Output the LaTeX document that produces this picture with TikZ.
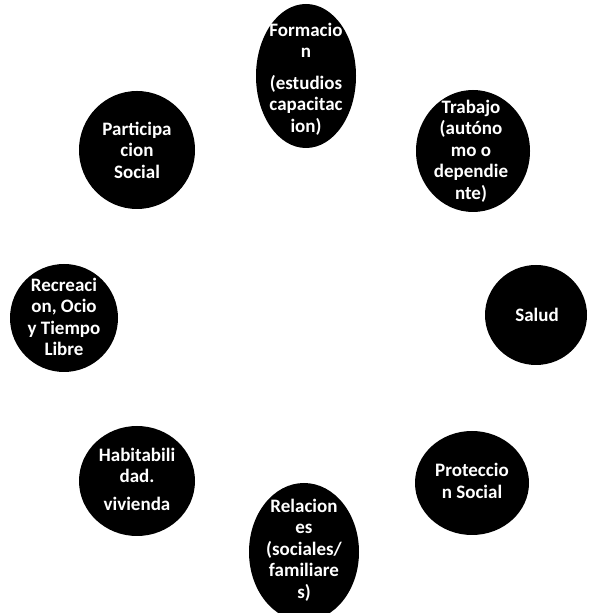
\documentclass[tikz,border=0pt]{standalone}
\usepackage{fontspec}
\setmainfont{Carlito}
\usetikzlibrary{shapes.geometric}
\tikzset{
  blob/.style={ellipse, fill=black, draw=none, inner sep=0pt},
  lbl/.style={text=white, font=\bfseries\fontsize{19}{21.5}\selectfont, align=center, inner sep=0pt}
}
\begin{document}
\begin{tikzpicture}[x=1pt,y=1pt]
\useasboundingbox (0,0) rectangle (591,613);
\node[blob, minimum width=100, minimum height=144] (form) at (306,537) {};
\node[lbl] (formt) at (306,534) {Formacio\\n\\[10pt](estudios\\capacitac\\ion)};

\node[blob, minimum width=114, minimum height=122] (trab) at (473,462) {};
\node[lbl] (trabt) at (471,462) {Trabajo\\(autóno\\mo o\\dependie\\nte)};

\node[blob, minimum width=102, minimum height=100] (salud) at (536,298) {};
\node[lbl] (saludt) at (537,298) {Salud};

\node[blob, minimum width=114, minimum height=104] (prot) at (472,130) {};
\node[lbl] (prott) at (472,132) {Proteccio\\n Social};

\node[blob, minimum width=110, minimum height=138] (rel) at (304,61) {};
\node[lbl] (relt) at (304,63) {Relacion\\es\\(sociales/\\familiare\\s)};

\node[blob, minimum width=116, minimum height=110] (hab) at (137,132) {};
\node[lbl] (habt) at (137,134) {Habitabili\\dad.\\[6pt]vivienda};

\node[blob, minimum width=108, minimum height=108] (rec) at (64,295) {};
\node[lbl] (rect) at (64,296) {Recreaci\\on, Ocio\\y Tiempo\\Libre};

\node[blob, minimum width=116, minimum height=118] (part) at (137,463) {};
\node[lbl] (partt) at (137,463) {Participa\\cion\\Social};
\end{tikzpicture}
\end{document}
